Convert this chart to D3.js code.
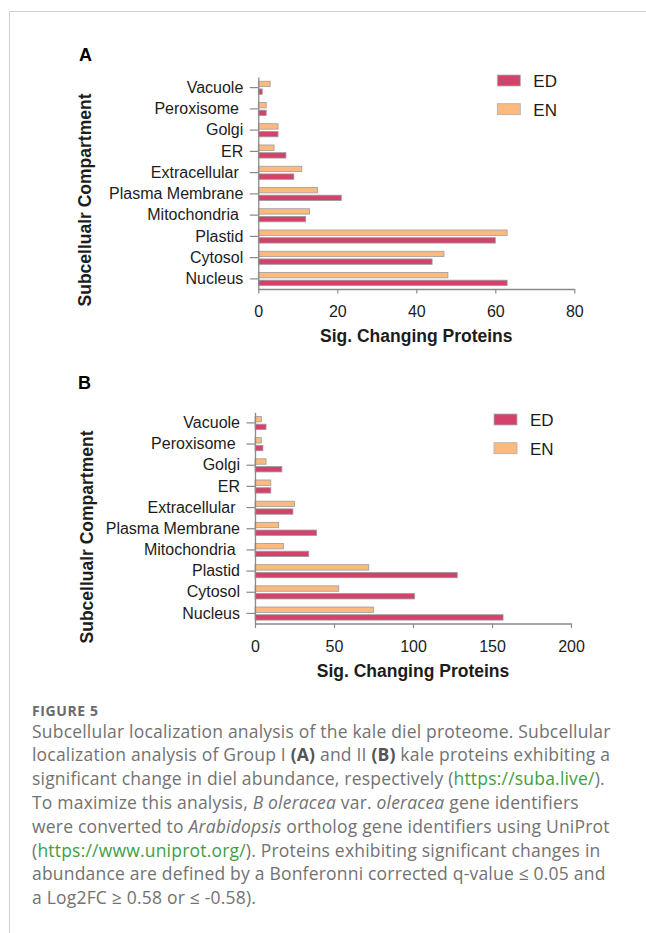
<!DOCTYPE html>
<html>
<head>
<meta charset="utf-8">
<script src="https://cdn.jsdelivr.net/npm/d3@7"></script>
<style>
  html, body { margin: 0; padding: 0; background: #ffffff; }
  svg { display: block; }
  text { white-space: pre; }
</style>
</head>
<body>
<svg id="fig" width="646" height="933"></svg>
<script>
// ---- data ----
const compartments = ["Vacuole", "Peroxisome ", "Golgi", "ER", "Extracellular ",
                      "Plasma Membrane", "Mitochondria ", "Plastid", "Cytosol", "Nucleus"];
const seriesNames = ["ED", "EN"];

// Group I (panel A)
const groupI_ED = [1, 2, 5, 7, 9, 21, 12, 60, 44, 63];
const groupI_EN = [3, 2, 5, 4, 11, 15, 13, 63, 47, 48];
const groupI_ticks = [0, 20, 40, 60, 80];

// Group II (panel B)
const groupII_ED = [7, 5, 17, 10, 24, 39, 34, 128, 101, 157];
const groupII_EN = [4, 4, 7, 10, 25, 15, 18, 72, 53, 75];
const groupII_ticks = [0, 50, 100, 150, 200];

const panelLetters = ["A", "B"];
const xAxisTitle = "Sig. Changing Proteins";
const yAxisTitle = "Subcellualr Compartment";

const figureLabel = "FIGURE 5";
// caption lines, each a list of [text, style] runs: n = plain, b = bold, i = italic, l = link
const captionLines = [
  [["Subcellular localization analysis of the kale diel proteome. Subcellular", "n"]],
  [["localization analysis of Group I ", "n"], ["(A)", "b"], [" and II ", "n"], ["(B)", "b"], [" kale proteins exhibiting a", "n"]],
  [["significant change in diel abundance, respectively (", "n"], ["https://suba.live/", "l"], [").", "n"]],
  [["To maximize this analysis, ", "n"], ["B oleracea", "i"], [" var. ", "n"], ["oleracea", "i"], [" gene identifiers", "n"]],
  [["were converted to ", "n"], ["Arabidopsis", "i"], [" ortholog gene identifiers using UniProt", "n"]],
  [["(", "n"], ["https://www.uniprot.org/", "l"], ["). Proteins exhibiting significant changes in", "n"]],
  [["abundance are defined by a Bonferonni corrected q-value \u2264 0.05 and", "n"]],
  [["a Log2FC \u2265 0.58 or \u2264 -0.58).", "n"]]
];

// ---- styling ----
const colorED = "#d2426b";
const colorEN = "#fcba7f";
const barStroke = "#9c9c9c";
const axisColor = "#8a8a8a";
const textColor = "#1c1c1c";
const chartFont = "'Liberation Sans', Arial, Helvetica, sans-serif";
const captionFont = "'Open Sans', Lato, sans-serif";

const svg = d3.select("#fig");

// page frame (thin grey rules at top and left)
svg.append("line").attr("x1", 9.5).attr("x2", 646).attr("y1", 11.5).attr("y2", 11.5)
   .attr("stroke", "#cfcfcf").attr("stroke-width", 1);
svg.append("line").attr("x1", 9.5).attr("x2", 9.5).attr("y1", 11.5).attr("y2", 933)
   .attr("stroke", "#cfcfcf").attr("stroke-width", 1);

const panels = [
  { letter: panelLetters[0], ed: groupI_ED, en: groupI_EN, ticks: groupI_ticks,
    x0: 258.3, x1: 574.3, yTop: 77, yBottom: 289.5,
    letterX: 79, letterY: 61, titleYX: 91, titleYY: 200, legendTop: 75 },
  { letter: panelLetters[1], ed: groupII_ED, en: groupII_EN, ticks: groupII_ticks,
    x0: 255, x1: 571, yTop: 412.3, yBottom: 624,
    letterX: 78, letterY: 389, titleYX: 93, titleYY: 537, legendTop: 414 }
];

panels.forEach(p => drawPanel(p));

function drawPanel(p) {
  const g = svg.append("g");
  const xMax = p.ticks[p.ticks.length - 1];
  const x = d3.scaleLinear().domain([0, xMax]).range([p.x0, p.x1]);
  const y = d3.scaleBand().domain(compartments).range([p.yTop, p.yBottom]).padding(0);
  const mid = c => y(c) + y.bandwidth() / 2;
  const barH = 5.4;

  // bars: EN above the tick, ED below
  const rows = compartments.map((c, i) => ({ c, ed: p.ed[i], en: p.en[i] }));
  g.append("g").selectAll("rect").data(rows).join("rect")
    .attr("x", p.x0).attr("y", d => mid(d.c) - 6.4)
    .attr("width", d => x(d.en) - p.x0).attr("height", barH)
    .attr("fill", colorEN).attr("stroke", barStroke).attr("stroke-width", 0.8);
  g.append("g").selectAll("rect").data(rows).join("rect")
    .attr("x", p.x0).attr("y", d => mid(d.c) + 1.3)
    .attr("width", d => x(d.ed) - p.x0).attr("height", barH)
    .attr("fill", colorED).attr("stroke", barStroke).attr("stroke-width", 0.8);

  // y axis
  const yAx = g.append("g").attr("transform", `translate(${p.x0},0)`)
    .call(d3.axisLeft(y).tickSizeInner(8.5).tickSizeOuter(0).tickPadding(6.5));
  yAx.selectAll("text").attr("font-family", chartFont).attr("font-size", 16)
     .attr("fill", textColor);

  // x axis
  const axisY = p.yBottom - 0.5;
  const xAx = g.append("g").attr("transform", `translate(0,${axisY})`)
    .call(d3.axisBottom(x).tickValues(p.ticks).tickSizeInner(4.5).tickSizeOuter(0).tickPadding(12.4));
  xAx.selectAll("text").attr("font-family", chartFont).attr("font-size", 16)
     .attr("fill", textColor);

  [yAx, xAx].forEach(a => {
    a.select(".domain").attr("stroke", axisColor).attr("stroke-width", 1.3);
    a.selectAll(".tick line").attr("stroke", axisColor).attr("stroke-width", 1.2);
  });

  // axis titles
  g.append("text").text(xAxisTitle)
    .attr("x", (p.x0 + p.x1) / 2).attr("y", axisY + 53)
    .attr("text-anchor", "middle").attr("font-family", chartFont)
    .attr("font-weight", "bold").attr("font-size", 17.5).attr("fill", textColor);
  g.append("text").text(yAxisTitle)
    .attr("transform", `translate(${p.titleYX},${p.titleYY}) rotate(-90)`)
    .attr("text-anchor", "middle").attr("font-family", chartFont)
    .attr("font-weight", "bold").attr("font-size", 17.5).attr("fill", textColor);

  // panel letter
  g.append("text").text(p.letter)
    .attr("x", p.letterX).attr("y", p.letterY)
    .attr("font-family", chartFont).attr("font-weight", "bold")
    .attr("font-size", 18).attr("fill", "#000");

  // legend
  const legendColors = { ED: colorED, EN: colorEN };
  const lg = g.append("g").attr("transform", `translate(${p.x1 - 77},${p.legendTop})`);
  seriesNames.forEach((s, i) => {
    lg.append("rect").attr("x", 0).attr("y", i * 28.7).attr("width", 23).attr("height", 11)
      .attr("fill", legendColors[s]).attr("stroke", "#b0b0b0").attr("stroke-width", 0.8);
    lg.append("text").text(s).attr("x", 36).attr("y", i * 28.7 + 12)
      .attr("font-family", chartFont).attr("font-size", 17).attr("fill", textColor);
  });
}

// ---- caption ----
const cap = svg.append("g");
cap.append("text").text(figureLabel)
  .attr("x", 32).attr("y", 716)
  .attr("font-family", captionFont).attr("font-weight", "bold")
  .attr("font-size", 14).attr("letter-spacing", 0.6).attr("fill", "#6a6a6a");

captionLines.forEach((runs, i) => {
  const t = cap.append("text").attr("x", 32).attr("y", 737.5 + i * 23.8)
    .attr("font-family", captionFont).attr("font-size", 17.5)
    .attr("letter-spacing", 0.2).attr("fill", "#727272");
  runs.forEach(([str, st]) => {
    const ts = t.append("tspan").text(str);
    if (st === "b") ts.attr("font-weight", "bold").attr("fill", "#555555");
    if (st === "i") ts.attr("font-style", "italic");
    if (st === "l") ts.attr("fill", "#3f9e43");
  });
});
</script>
</body>
</html>
